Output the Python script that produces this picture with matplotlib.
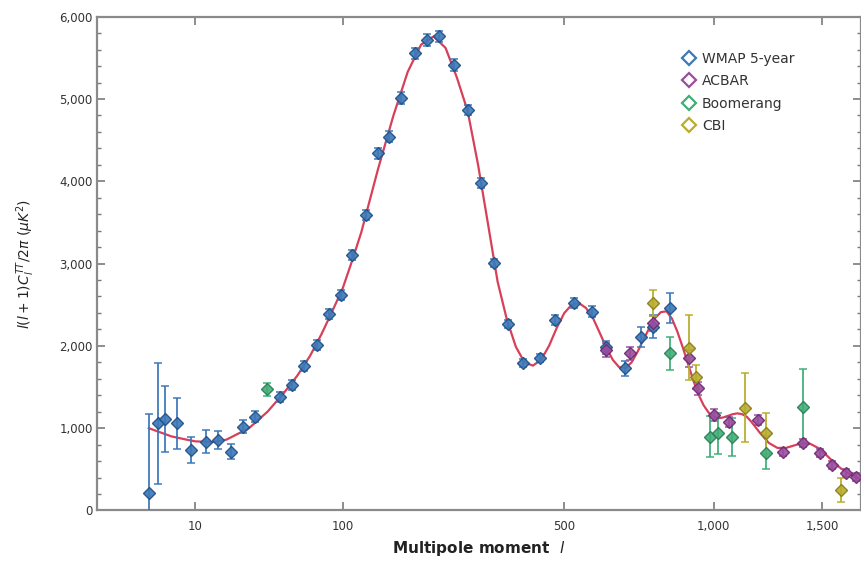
import numpy as np
import matplotlib
matplotlib.use("Agg")
import matplotlib.pyplot as plt
from matplotlib.lines import Line2D
from matplotlib.ticker import FixedLocator, MultipleLocator, FuncFormatter

# ---------------- data ----------------
wmap_l = [2, 3, 4, 6, 9, 13, 17, 22, 27, 33, 48, 56, 65, 76, 87, 98, 110, 126,
          140, 154, 171, 191, 209, 229, 255, 280, 306, 333, 363, 396, 437, 476,
          527, 577, 619, 677, 732, 771, 831]
wmap_v = [209, 1060, 1108, 1060, 735, 836, 857, 714, 1018, 1140, 1383, 1525,
          1756, 2011, 2385, 2618, 3100, 3590, 4340, 4542, 5009, 5555, 5717,
          5760, 5413, 4866, 3976, 3011, 2270, 1789, 1849, 2315, 2525, 2416,
          1983, 1728, 2112, 2233, 2457]
wmap_e = [960, 735, 400, 310, 160, 140, 110, 90, 80, 70, 60, 60, 60, 60, 60,
          60, 60, 60, 70, 70, 70, 70, 70, 70, 70, 60, 60, 50, 50, 50, 50, 60,
          60, 70, 80, 90, 120, 140, 180]

acbar_l = [619, 696, 771, 903, 937, 1004, 1066, 1190, 1306, 1404, 1489, 1550,
           1630, 1685]
acbar_v = [1950, 1910, 2275, 1849, 1485, 1160, 1079, 1100, 714, 816, 695, 553,
           452, 411]
acbar_e = [80, 80, 90, 100, 80, 70, 60, 60, 50, 50, 50, 50, 50, 50]

boom_l = [40, 831, 984, 1018, 1078, 1228, 1404]
boom_v = [1473, 1910, 897, 938, 897, 700, 1261]
boom_e = [80, 200, 250, 250, 230, 200, 456]

cbi_l = [771, 903, 930, 1131, 1228, 1603]
cbi_v = [2517, 1980, 1620, 1250, 938, 249]
cbi_e = [160, 400, 150, 420, 250, 150]

theory_l = [2, 3, 5, 8, 10, 15, 20, 30, 40, 50, 60, 70, 80, 90, 100, 110, 120,
            140, 160, 180, 200, 220, 240, 260, 280, 300, 320, 340, 360, 380,
            400, 420, 440, 460, 480, 500, 520, 540, 560, 580, 600, 620, 640,
            660, 680, 700, 720, 740, 760, 780, 800, 820, 840, 860, 880, 900,
            920, 940, 960, 980, 1000, 1020, 1040, 1060, 1080, 1100, 1120, 1140,
            1160, 1180, 1200, 1240, 1280, 1320, 1360, 1400, 1440, 1480, 1520,
            1560, 1600, 1650, 1710]
theory_v = [1000, 960, 900, 860, 840, 830, 860, 1000, 1200, 1420, 1640, 1880,
            2150, 2430, 2700, 3040, 3380, 4150, 4800, 5330, 5660, 5760, 5620,
            5260, 4850, 4200, 3480, 2780, 2320, 1990, 1800, 1760, 1830, 2000,
            2220, 2400, 2500, 2520, 2460, 2340, 2160, 1980, 1830, 1740, 1730,
            1800, 1930, 2080, 2220, 2340, 2410, 2420, 2330, 2170, 1980, 1780,
            1580, 1410, 1280, 1190, 1140, 1120, 1130, 1150, 1170, 1180, 1170,
            1140, 1080, 1010, 940, 820, 760, 760, 790, 820, 810, 760, 680, 590,
            510, 440, 380]

x_ticks = [10, 100, 500, 1000, 1500]
x_ticklabels = ["10", "100", "500", "1,000", "1,500"]
y_ticks = [0, 1000, 2000, 3000, 4000, 5000, 6000]

series = [
    ("WMAP 5-year", wmap_l, wmap_v, wmap_e, "#3c78b8", "#1f4f85"),
    ("ACBAR", acbar_l, acbar_v, acbar_e, "#9a4c9e", "#6a2a70"),
    ("Boomerang", boom_l, boom_v, boom_e, "#3fae78", "#2b7d55"),
    ("CBI", cbi_l, cbi_v, cbi_e, "#b9ad2c", "#857c1a"),
]

# ---------------- figure ----------------
plt.rcParams["mathtext.fontset"] = "dejavusans"
plt.rcParams["mathtext.default"] = "regular"
fig = plt.figure(figsize=(8.62, 5.67), dpi=100)
ax = fig.add_axes([0.1131, 0.0997, 0.8857, 0.8709])


def fwd(x):
    x = np.asarray(x, dtype=float)
    return np.sign(x) * np.abs(x) ** 0.4


def inv(u):
    u = np.asarray(u, dtype=float)
    return np.sign(u) * np.abs(u) ** 2.5


ax.set_xscale("function", functions=(fwd, inv))

ax.plot(theory_l, theory_v, color="#d8405a", lw=1.6, zorder=2)

for name, l, v, e, col, ecol in series:
    ax.errorbar(l, v, yerr=e, fmt="D", color=col, ecolor=col, mec=ecol,
                mfc=col, ms=6, elinewidth=1.4, capsize=3, capthick=1.2,
                zorder=3, alpha=0.9)

ax.set_xlim(0, 1710)
ax.set_ylim(0, 6000)

ax.xaxis.set_major_locator(FixedLocator(x_ticks))
ax.set_xticklabels(x_ticklabels)
ax.xaxis.set_minor_locator(FixedLocator([]))
ax.yaxis.set_major_locator(FixedLocator(y_ticks))
ax.yaxis.set_minor_locator(MultipleLocator(200))
ax.yaxis.set_major_formatter(FuncFormatter(lambda v, p: f"{int(v):,}"))

ax.tick_params(which="both", direction="in", top=True, right=True,
               colors="#7a7a7a", labelcolor="#333333", labelsize=8.5)
ax.tick_params(which="major", length=6, width=1.2)
ax.tick_params(which="minor", length=3, width=1.0)
ax.tick_params(axis="x", pad=7)
for s in ax.spines.values():
    s.set_color("#8a8a8a")
    s.set_linewidth(1.6)

ax.set_xlabel("Multipole moment  $\\it{l}$", fontsize=11, fontweight="bold",
              color="#222222", labelpad=4)
ax.set_ylabel(r"$\it{l}(\it{l}+1)C_{\it{l}}^{TT}/2\pi\ (\mu K^2)$", fontsize=10,
              color="#222222", labelpad=16)

handles = [Line2D([], [], ls="none", marker="D", mfc="none", mec=c, mew=1.6,
                  ms=7) for _, _, _, _, c, _ in series]
labels = [s[0] for s in series]
ax.legend(handles, labels, loc="upper left", bbox_to_anchor=(0.757, 0.94),
          frameon=False, fontsize=10, handletextpad=0.3, labelspacing=0.6,
          borderaxespad=0, handlelength=1.2, labelcolor="#333333")

fig.savefig("out.png", dpi=100)
